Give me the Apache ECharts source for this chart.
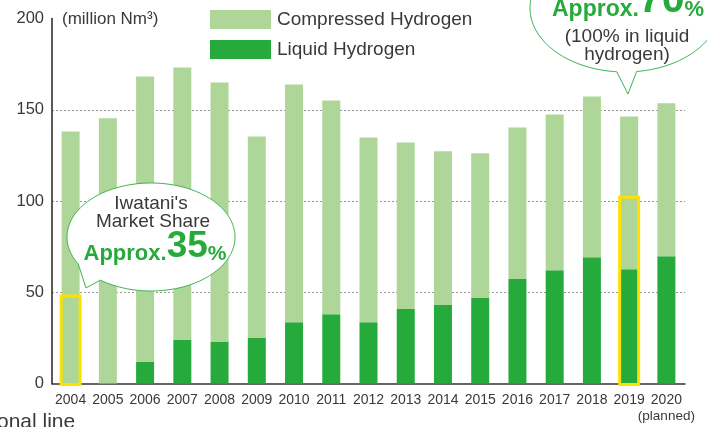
<!DOCTYPE html>
<html>
<head>
<meta charset="utf-8">
<script src="https://cdn.jsdelivr.net/npm/echarts@6/dist/echarts.min.js"></script>
<style>
  html, body { margin: 0; padding: 0; background: #fff; }
  #main { width: 707px; height: 427px; }
</style>
</head>
<body>
<div id="main"></div>
<script>
// hydrogen sales volume (million Nm3)
const years = ['2004', '2005', '2006', '2007', '2008', '2009', '2010', '2011', '2012',
  '2013', '2014', '2015', '2016', '2017', '2018', '2019', '2020'];
const liquid = [0, 0, 12, 24, 23, 25, 33.6, 38, 33.6, 40.8, 43, 46.8, 57.2, 62.1, 69.2, 62.6, 69.7];
const compressed = [138.1, 145.4, 156.2, 149.1, 141.9, 110.4, 130.2, 117.1, 101.2, 91.3, 84.2, 79.3, 83.1, 85.3, 88.1, 83.7, 83.8];
// yellow boxes = Iwatani's share
const shareBoxes = [['2004', 48], ['2019', 102]];
const yTicks = [0, 50, 100, 150, 200];

const textCol = '#3d3838';
const green = '#26aa3b';
const font = '"Liberation Sans", Arial, sans-serif';

const chart = echarts.init(document.getElementById('main'), null, { renderer: 'canvas' });

// speech bubble outline: ellipse with a pointed tail, as polygon points
function bubble(cx, cy, rx, ry, t1, t2, tip) {
  const pts = [];
  for (let t = t2; t >= t1 - 360; t -= 2) {
    pts.push([cx + rx * Math.cos(t * Math.PI / 180), cy + ry * Math.sin(t * Math.PI / 180)]);
  }
  pts.push([cx + rx * Math.cos(t1 * Math.PI / 180), cy + ry * Math.sin(t1 * Math.PI / 180)]);
  pts.push(tip);
  return pts;
}

function bigPct(num, sa, sb, lh) {
  return {
    text: '{a|Approx.}{b|' + num + '}{c|%}',
    align: 'center',
    verticalAlign: 'bottom',
    rich: {
      a: { fill: green, fontSize: sa, fontWeight: 'bold', fontFamily: font, verticalAlign: 'bottom', lineHeight: lh },
      b: { fill: green, fontSize: sb, fontWeight: 'bold', fontFamily: font, verticalAlign: 'bottom', lineHeight: lh },
      c: { fill: green, fontSize: sa - 1, fontWeight: 'bold', fontFamily: font, verticalAlign: 'bottom', lineHeight: lh }
    }
  };
}

var option = {
  animation: false,
  color: [green, '#afd699'],
  grid: {
    left: 52,
    right: 22,
    top: 18.5,
    bottom: 43.5
  },
  legend: {
    data: ['Compressed Hydrogen', 'Liquid Hydrogen'],
    orient: 'vertical',
    left: 210,
    top: 10,
    padding: 0,
    itemWidth: 61,
    itemHeight: 19,
    itemGap: 11,
    icon: 'rect',
    textStyle: { color: textCol, fontSize: 19, fontFamily: font, padding: [0, 0, 0, 1] }
  },
  xAxis: {
    type: 'category',
    data: years,
    axisTick: { show: false },
    axisLine: { lineStyle: { color: '#333', width: 1.5 } },
    axisLabel: {
      color: textCol,
      fontSize: 14,
      fontFamily: font,
      margin: 9,
      interval: 0,
      lineHeight: 16,
      formatter: function (v) {
        return v === '2020' ? v + '\n{p|(planned)}' : v;
      },
      rich: { p: { fontSize: 13.5, color: textCol, fontFamily: font, lineHeight: 16 } }
    }
  },
  yAxis: {
    type: 'value',
    min: yTicks[0],
    max: yTicks[yTicks.length - 1],
    interval: 50,
    axisLine: { show: true, lineStyle: { color: '#222', width: 1.5 } },
    axisTick: { show: false },
    axisLabel: { color: textCol, fontSize: 16.5, fontFamily: font, margin: 8 },
    splitLine: {
      showMinLine: false,
      showMaxLine: false,
      lineStyle: { color: '#999', type: [2, 2], width: 1 }
    }
  },
  series: [
    {
      name: 'Liquid Hydrogen',
      type: 'bar',
      stack: 'total',
      barWidth: 18,
      data: liquid,
      z: 2
    },
    {
      name: 'Compressed Hydrogen',
      type: 'bar',
      stack: 'total',
      barWidth: 18,
      data: compressed,
      z: 2
    },
    {
      name: 'share',
      type: 'custom',
      z: 5,
      data: shareBoxes,
      renderItem: function (params, api) {
        const top = api.coord([api.value(0), api.value(1)]);
        const bottom = api.coord([api.value(0), 0]);
        return {
          type: 'rect',
          shape: { x: top[0] - 9.5, y: top[1], width: 19, height: bottom[1] - top[1] + 1 },
          style: { fill: 'none', stroke: '#ffe000', lineWidth: 3 }
        };
      }
    }
  ],
  graphic: [
    {
      type: 'polygon',
      z: 100,
      shape: { points: bubble(151, 237, 84, 54, 150, 127, [86, 288]) },
      style: { fill: '#fff', stroke: '#3fb150', lineWidth: 1 }
    },
    {
      type: 'text', z: 101, x: 151, y: 204,
      style: { text: "Iwatani's", align: 'center', verticalAlign: 'middle', fill: textCol, fontSize: 19, fontFamily: font }
    },
    {
      type: 'text', z: 101, x: 153, y: 222,
      style: { text: 'Market Share', align: 'center', verticalAlign: 'middle', fill: textCol, fontSize: 19, fontFamily: font }
    },
    {
      type: 'text', z: 101, x: 155, y: 265,
      style: bigPct('35', 22, 37, 40)
    },
    {
      type: 'polygon',
      z: 100,
      shape: { points: bubble(625, 8, 95, 64, 95, 83, [628, 94]) },
      style: { fill: '#fff', stroke: '#3fb150', lineWidth: 1 }
    },
    {
      type: 'text', z: 101, x: 628, y: 21,
      style: bigPct('70', 23, 41, 44)
    },
    {
      type: 'text', z: 101, x: 627, y: 37,
      style: { text: '(100% in liquid', align: 'center', verticalAlign: 'middle', fill: textCol, fontSize: 19, fontFamily: font }
    },
    {
      type: 'text', z: 101, x: 627, y: 55,
      style: { text: 'hydrogen)', align: 'center', verticalAlign: 'middle', fill: textCol, fontSize: 19, fontFamily: font }
    },
    {
      type: 'text', x: 62, y: 19,
      style: { text: '(million Nm³)', verticalAlign: 'middle', fill: textCol, fontSize: 17, fontFamily: font }
    },
    {
      type: 'text', x: -3, y: 412,
      style: { text: 'onal line', fill: textCol, fontSize: 21, fontFamily: font }
    }
  ]
};

chart.setOption(option);
</script>
</body>
</html>
